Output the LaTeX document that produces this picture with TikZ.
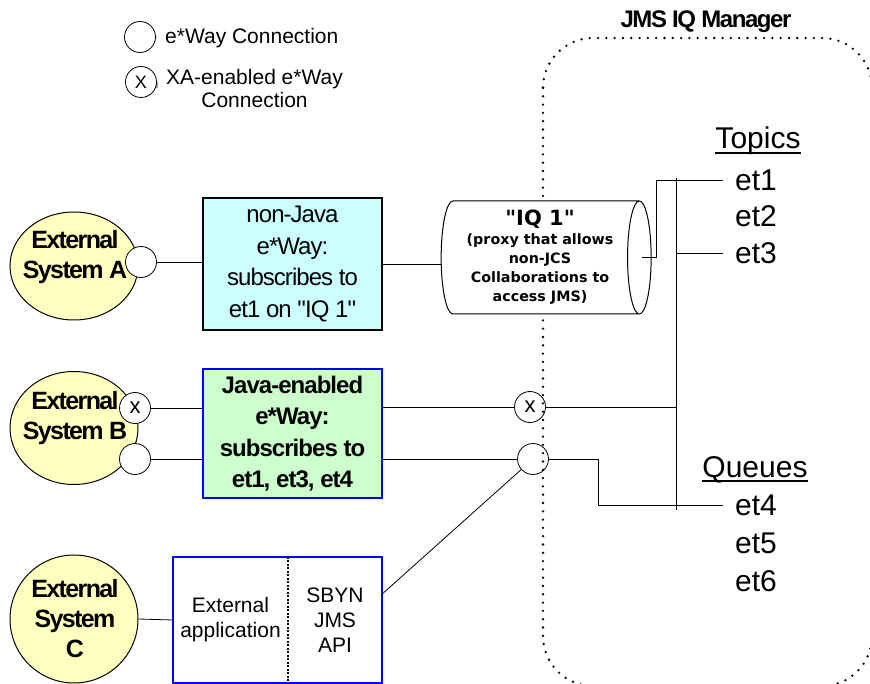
\documentclass[tikz,border=0pt]{standalone}
\usepackage{fontspec}
\setmainfont{Liberation Sans}[Ligatures=TeXOff]
\newfontfamily\verdana{DejaVu Sans}
\usetikzlibrary{shapes.geometric,positioning}

\definecolor{sysyellow}{HTML}{FFFFC0}
\definecolor{boxcyan}{HTML}{CCFFFF}
\definecolor{boxgreen}{HTML}{CCFFCC}

\newcommand{\squeeze}[1]{\addfontfeature{LetterSpace=#1}}

\begin{document}
\begin{tikzpicture}[x=1pt,y=-1pt,
  wire/.style={line width=0.8pt},
  extsys/.style={ellipse,draw,line width=1pt,fill=sysyellow,minimum width=128pt,inner sep=0pt},
  systext/.style={font=\fontsize{25}{30}\selectfont\bfseries\squeeze{-6.5},align=center,inner sep=0pt},
  port/.style={circle,draw,line width=0.8pt,fill=white,minimum size=31pt,inner sep=0pt,
    font=\fontsize{22}{22}\selectfont},
  openport/.style={port,fill=none},
  ebox/.style={rectangle,line width=1.3pt,minimum width=179pt,align=center,inner sep=0pt},
  apppart/.style={rectangle,minimum height=126pt,align=center,inner sep=0pt,
    font=\fontsize{21}{25}\selectfont},
  legtext/.style={anchor=west,inner xsep=9pt,inner ysep=0pt,align=center,
    font=\fontsize{21}{23}\selectfont},
  head/.style={anchor=base,inner sep=0pt,font=\fontsize{30}{30}\selectfont},
  etitem/.style={anchor=west,inner xsep=12pt,inner ysep=0pt,font=\fontsize{30}{30}\selectfont}]
  \useasboundingbox (0,0) rectangle (870,684);

  % IQ manager boundary
  \begin{scope}
    \clip (0,0) rectangle (870,684);
    \draw[line width=2.6pt,line cap=round,dash pattern=on 0pt off 8.3pt,rounded corners=50pt]
      (543,38) rectangle (872,686);
  \end{scope}
  \node[font=\fontsize{24}{24}\selectfont\bfseries\squeeze{-6}] (mgrTitle) at (706,22) {JMS IQ Manager};

  % legend
  \node[port] (legO) at (140,37) {};
  \node[legtext] (legOtext) at (156,38) {e*Way Connection};
  \draw[wire] (legO.east) -- (legOtext.west);
  \node[port,font=\fontsize{18}{18}\selectfont] (legX) at (141,82) {X};
  \node[legtext] (legXtext) at (157,88) {XA-enabled e*Way\\Connection};
  \draw[wire] (legX.east) -- (legXtext.west);

  % external systems
  \node[extsys,minimum height=108pt] (sysA) at (74,266) {};
  \node[extsys,minimum height=113pt] (sysB) at (74,428) {};
  \node[extsys,minimum height=128pt] (sysC) at (74,619) {};
  \node[port] (portA) at (141,262) {};
  \node[port] (portBx) at (135,408) {x};
  \node[port] (portBo) at (135,459) {};
  \node[systext] (sysAtext) at (75,257) {External\\System A};
  \node[systext] (sysBtext) at (75,418) {External\\System B};
  \node[systext] (sysCtext) at (75,619) {External\\System\\C};

  % e*Ways
  \node[ebox,draw=black,fill=boxcyan,minimum height=132pt,
    font=\fontsize{24}{31.7}\selectfont\squeeze{-4}] (boxA) at (292.5,264)
    {non-Java\\e*Way:\\subscribes to\\et1 on "IQ 1"};
  \node[ebox,draw=blue,fill=boxgreen,minimum height=129pt,
    font=\fontsize{24}{31.5}\selectfont\bfseries\squeeze{-4}] (boxB) at (292.5,433.5)
    {Java-enabled\\e*Way:\\subscribes to\\et1, et3, et4};
  \node[apppart,minimum width=115pt] (extApp) at (230.5,620) {External\\application};
  \node[apppart,minimum width=94pt] (sbynApi) at (335,620) {SBYN\\JMS\\API};
  \draw[line width=1.5pt,blue] (extApp.north west) rectangle (sbynApi.south east);
  \draw[line width=1.5pt,dash pattern=on 2pt off 1.5pt] (extApp.north east) -- (extApp.south east);

  % IQ
  \node[cylinder,draw,line width=1pt,fill=white,shape border rotate=0,aspect=0.25,
    minimum width=113pt,minimum height=210pt,inner sep=0pt,align=center,
    font=\verdana\bfseries\fontsize{14.3}{19}\selectfont] (iq) at (540,257.5)
    {{\fontsize{21}{23}\selectfont"IQ 1"}\\(proxy that allows\\non-JCS\\Collaborations to\\access JMS)};
  \node[openport] (qx) at (530,407) {x};
  \node[openport] (qo) at (533,459) {};

  % topics and queues
  \node[head] (topics) at (758,149) {Topics};
  \draw[line width=1.3pt] ([yshift=-4pt]topics.base west) -- ([yshift=-4pt]topics.base east);
  \node[head] (queues) at (755,477) {Queues};
  \draw[line width=1.3pt] ([yshift=-4pt]queues.base west) -- ([yshift=-4pt]queues.base east);
  \foreach \t/\y in {1/180,2/216.5,3/253,4/505.5,5/543,6/581}
    \node[etitem] (et\t) at (723,\y) {et\t};
  \coordinate (busTop) at (676,178);
  \coordinate (busBot) at (676,510);

  % connections
  \draw[wire] (portA.east) -- (portA.east -| boxA.west);
  \draw[wire] (boxA.east) -- (boxA.east -| iq.west);
  \draw[wire] (portBx.east) -- (portBx.east -| boxB.west);
  \draw[wire] (portBo.east) -- (portBo.east -| boxB.west);
  \draw[wire] (sysC.east) -- (extApp.west);
  \draw[wire] (qx -| boxB.east) -- (qx.west);
  \draw[wire] (qo -| boxB.east) -- (qo.west);
  \draw[wire] ([yshift=26pt]sbynApi.east) -- (qo);
  \draw[wire] ([xshift=-10pt]iq.east) -| ([xshift=-67pt]et1.west) -- (et1.west);
  \draw[wire] (busTop) -- (busBot);
  \draw[wire] (et3.west -| busTop) -- (et3.west);
  \draw[wire] (qx.east) -- (qx.east -| busTop);
  \draw[wire] (qo.east) -- ++(49,0) |- (et4.west);
\end{tikzpicture}
\end{document}
